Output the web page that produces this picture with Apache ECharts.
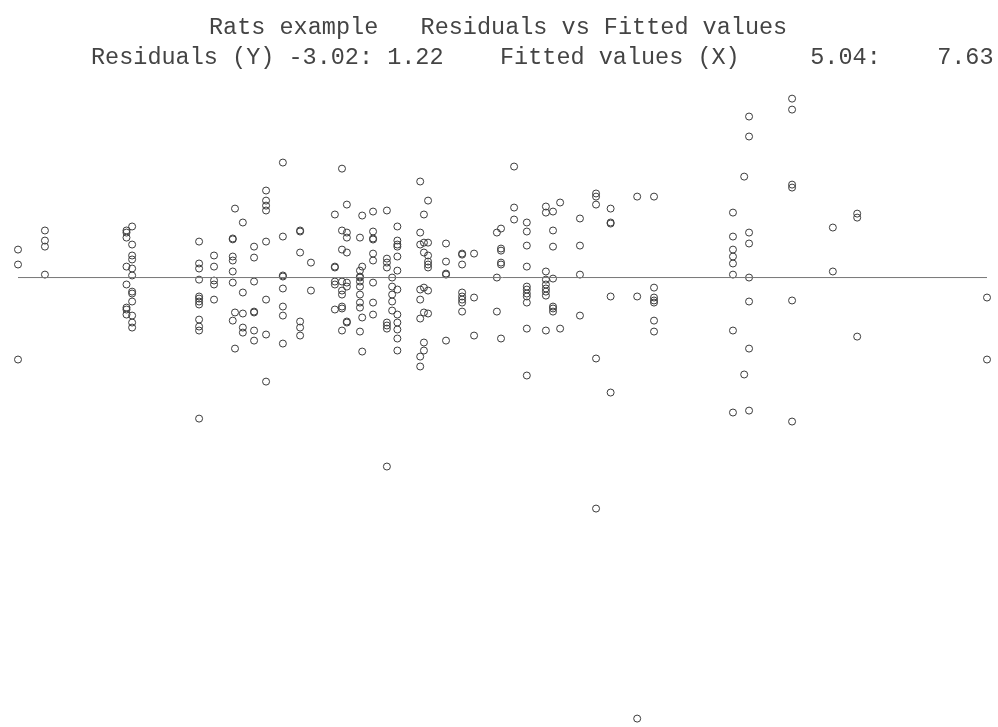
<!DOCTYPE html>
<html>
<head>
<meta charset="utf-8">
<script src="https://cdn.jsdelivr.net/npm/echarts@6/dist/echarts.min.js"></script>
<style>
html,body{margin:0;padding:0;background:#fff;}
#chart{width:998px;height:727px;}
</style>
</head>
<body>
<div id="chart"></div>
<script>
const titleLine1 = "Rats example   Residuals vs Fitted values";
const titleLine2 = "Residuals (Y) -3.02: 1.22    Fitted values (X)     5.04:    7.63";
const xRange = [5.04, 7.63];
const yRange = [-3.02, 1.22];

// fitted value of each group
const fitted = [5.04, 5.112, 5.33, 5.345, 5.524, 5.564, 5.614, 5.62, 5.641, 5.671, 5.703, 5.748, 5.794, 5.823,
  5.887, 5.906, 5.919, 5.954, 5.96, 5.989, 6.026, 6.04, 6.054, 6.115, 6.125, 6.136, 6.184, 6.227, 6.259,
  6.32, 6.331, 6.366, 6.40, 6.451, 6.47, 6.489, 6.542, 6.585, 6.624, 6.695, 6.74, 6.951, 6.981, 6.994,
  7.109, 7.218, 7.283, 7.63];

// residuals for each group
const residuals = [
  [0.189, 0.088, -0.554],
  [0.318, 0.25, 0.209, 0.02],
  [0.318, 0.304, 0.27, 0.074, -0.047, -0.203, -0.216, -0.25],
  [0.345, 0.223, 0.149, 0.122, 0.061, 0.014, -0.095, -0.108, -0.162, -0.257, -0.304, -0.338],
  [0.243, 0.095, 0.061, -0.014, -0.128, -0.142, -0.162, -0.182, -0.284, -0.331, -0.358, -0.953],
  [0.149, 0.074, -0.02, -0.047, -0.149],
  [0.264, 0.258, 0.142, 0.115, 0.041, -0.034, -0.291],
  [0.466, -0.236, -0.48],
  [0.372, -0.101, -0.243, -0.338, -0.372],
  [0.209, 0.135, -0.027, -0.23, -0.236, -0.358, -0.426],
  [0.588, 0.52, 0.486, 0.453, 0.243, -0.149, -0.385, -0.703],
  [0.777, 0.277, 0.014, 0.007, -0.074, -0.196, -0.257, -0.446],
  [0.318, 0.311, 0.169, -0.297, -0.338, -0.392],
  [0.101, -0.088],
  [0.426, 0.074, 0.068, -0.027, -0.047, -0.216],
  [0.736, 0.318, 0.189, -0.027, -0.088, -0.115, -0.196, -0.209, -0.358],
  [0.493, 0.304, 0.27, 0.169, -0.034, -0.061, -0.297, -0.304],
  [0.27, 0.047, 0.007, 0.0, -0.027, -0.061, -0.115, -0.169, -0.203, -0.365],
  [0.419, 0.074, -0.27, -0.5],
  [0.446, 0.311, 0.264, 0.257, 0.162, 0.115, -0.034, -0.169, -0.25],
  [0.453, 0.128, 0.101, 0.068, -0.304, -0.324, -0.345, -1.277],
  [0.0, -0.061, -0.115, -0.162, -0.223],
  [0.345, 0.25, 0.223, 0.209, 0.142, 0.047, -0.081, -0.25, -0.304, -0.351, -0.412, -0.493],
  [0.649, 0.304, 0.223, -0.081, -0.149, -0.277, -0.534, -0.601],
  [0.426, 0.236, 0.169, -0.068, -0.236, -0.439, -0.493],
  [0.52, 0.236, 0.149, 0.108, 0.088, 0.068, -0.088, -0.243],
  [0.23, 0.108, 0.027, 0.02, -0.426],
  [0.162, 0.155, 0.088, -0.101, -0.128, -0.149, -0.169, -0.23],
  [0.162, -0.135, -0.392],
  [0.304, 0.0, -0.23],
  [0.331, 0.196, 0.182, 0.101, 0.088, -0.412],
  [0.75, 0.473, 0.392],
  [0.372, 0.311, 0.216, 0.074, -0.061, -0.081, -0.108, -0.128, -0.169, -0.345, -0.662],
  [0.48, 0.439, 0.041, -0.014, -0.047, -0.074, -0.095, -0.122, -0.358],
  [0.446, 0.318, 0.209, -0.007, -0.196, -0.209, -0.23],
  [0.507, -0.345],
  [0.399, 0.216, 0.02, -0.257],
  [0.568, 0.547, 0.493, -0.547, -1.561],
  [0.466, 0.372, 0.365, -0.128, -0.777],
  [0.547, -0.128, -2.98],
  [0.547, -0.068, -0.135, -0.155, -0.169, -0.291, -0.365],
  [0.439, 0.277, 0.189, 0.142, 0.095, 0.02, -0.358, -0.912],
  [0.682, -0.655],
  [1.088, 0.953, 0.304, 0.23, 0.0, -0.162, -0.48, -0.899],
  [1.209, 1.135, 0.628, 0.608, -0.155, -0.973],
  [0.338, 0.041],
  [0.432, 0.405, -0.399],
  [-0.135, -0.554]
];

// zero reference line
const refLineX = [5.04, 7.63];
const refLineY = [0, 0];

const points = [];
fitted.forEach((fx, i) => residuals[i].forEach(r => points.push([fx, r])));

const chart = echarts.init(document.getElementById('chart'), null, {renderer: 'canvas'});
const titleFont = {fontFamily: 'Liberation Mono', fontSize: 23.5, fontWeight: 'normal', color: '#444'};
chart.setOption({
  animation: false,
  backgroundColor: '#fff',
  title: [
    {text: titleLine1, left: 204, top: 11, textStyle: titleFont},
    {text: titleLine2, left: 86, top: 41, textStyle: titleFont}
  ],
  grid: {left: 18, right: 11, top: 97, bottom: 2.5},
  xAxis: {type: 'value', min: xRange[0], max: xRange[1], show: false},
  yAxis: {type: 'value', min: yRange[0], max: yRange[1], show: false},
  series: [
    {
      type: 'line',
      data: refLineX.map((x, i) => [x, refLineY[i]]),
      symbol: 'none',
      lineStyle: {color: '#777', width: 1},
      silent: true
    },
    {
      type: 'scatter',
      data: points,
      symbol: 'circle',
      symbolSize: 7,
      clip: false,
      itemStyle: {color: 'rgba(0,0,0,0)', borderColor: '#3c3c3c', borderWidth: 1, opacity: 1}
    }
  ]
});
</script>
</body>
</html>
